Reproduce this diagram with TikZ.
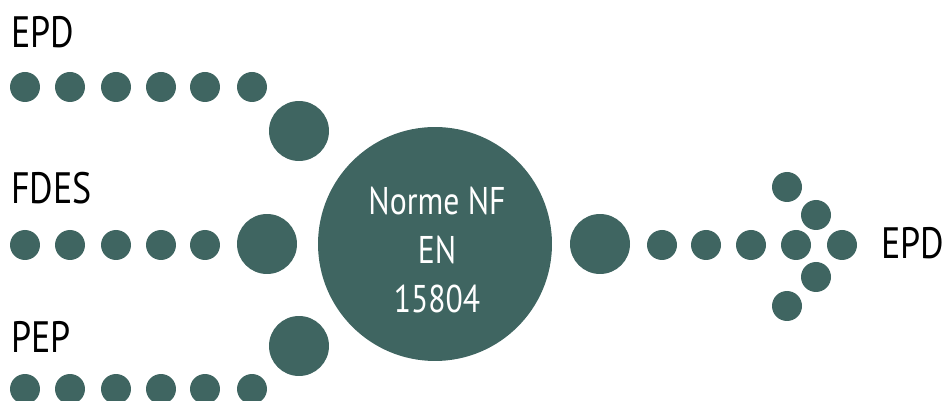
\documentclass[tikz,border=0pt]{standalone}
\usepackage{fontspec}
\setmainfont{PT Sans}[FakeStretch=0.82]
\usepackage{tikz}
\definecolor{dotgreen}{HTML}{3F6561}

\begin{document}
\begin{tikzpicture}[x=0.02cm,y=-0.02cm]
        \tikzstyle{every node} = [inner sep=0pt, outer sep=0pt]
        \tikzstyle{dot} = [circle, fill=dotgreen, minimum size=0.6cm]
        \tikzstyle{bigdot} = [circle, fill=dotgreen, minimum size=1.2cm]
        \tikzstyle{hub} = [circle, fill=dotgreen, minimum size=4.68cm]
        \tikzstyle{hubtext} = [text=white, align=center, font=\fontsize{22}{28}\selectfont]
        \tikzstyle{label} = [anchor=base west, font=\fontsize{25}{30}\selectfont]
        \useasboundingbox (0,0) rectangle (950,401);

        % labels
        \node[label] (epdin) at (11,48) {EPD};
        \node[label] (fdes) at (11,204) {FDES};
        \node[label] (pep) at (11,353) {PEP};
        \node[label] (epdout) at (881,259) {EPD};

        % top row
        \node[dot] (t1) at (25,87) {};
        \node[dot] (t2) at (70,87) {};
        \node[dot] (t3) at (116,87) {};
        \node[dot] (t4) at (161,87) {};
        \node[dot] (t5) at (205,87) {};
        \node[dot] (t6) at (252,87) {};
        \node[bigdot] (t7) at (299,131) {};

        % middle row
        \node[dot] (m1) at (25,245) {};
        \node[dot] (m2) at (70,245) {};
        \node[dot] (m3) at (116,245) {};
        \node[dot] (m4) at (161,245) {};
        \node[dot] (m5) at (205,245) {};
        \node[bigdot] (m6) at (267,244) {};

        % bottom row
        \node[dot] (b1) at (25,389) {};
        \node[dot] (b2) at (70,389) {};
        \node[dot] (b3) at (116,389) {};
        \node[dot] (b4) at (161,389) {};
        \node[dot] (b5) at (205,389) {};
        \node[dot] (b6) at (252,389) {};
        \node[bigdot] (b7) at (299,346) {};

        % norm
        \node[hub] (norm) at (435,244) {};
        \node[hubtext] (normtext) at (437,250) {Norme NF\\EN\\15804};

        % arrow to the right
        \node[bigdot] (r0) at (600,244) {};
        \node[dot] (r1) at (662,245) {};
        \node[dot] (r2) at (706,245) {};
        \node[dot] (r3) at (751,245) {};
        \node[dot] (r4) at (796,245) {};
        \node[dot] (r5) at (842,245) {};
        \node[dot] (u1) at (787,187) {};
        \node[dot] (u2) at (816,215) {};
        \node[dot] (l1) at (816,277) {};
        \node[dot] (l2) at (787,306) {};
\end{tikzpicture}
\end{document}
